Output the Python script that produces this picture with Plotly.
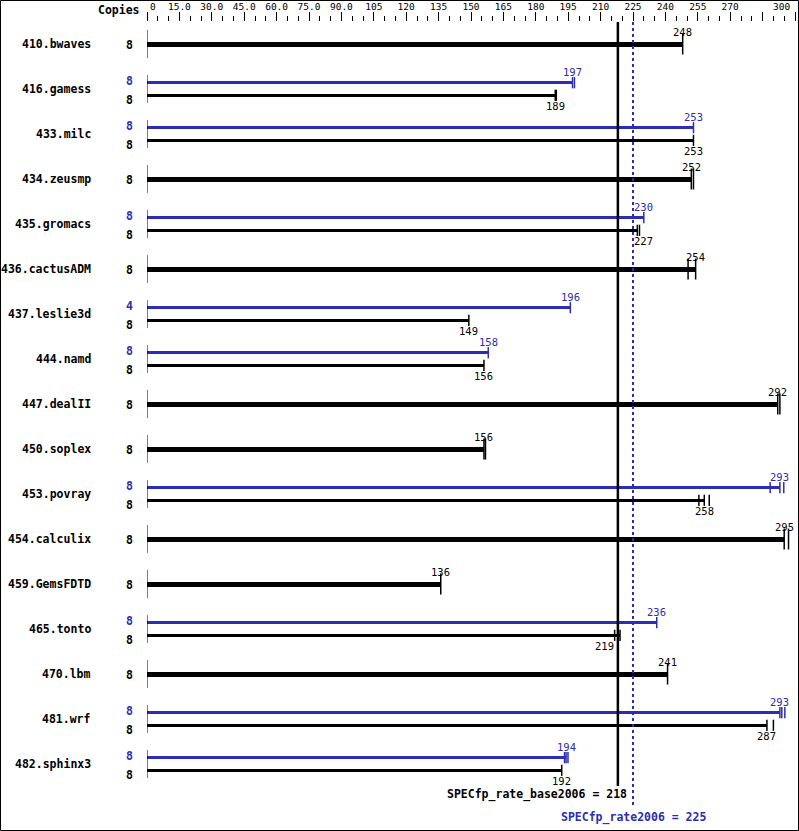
import plotly.graph_objects as go

# ---------------- data ----------------
benchmarks = ["410.bwaves", "416.gamess", "433.milc", "434.zeusmp", "435.gromacs",
              "436.cactusADM", "437.leslie3d", "444.namd", "447.dealII", "450.soplex",
              "453.povray", "454.calculix", "459.GemsFDTD", "465.tonto", "470.lbm",
              "481.wrf", "482.sphinx3"]
base_copies = [8, 8, 8, 8, 8, 8, 8, 8, 8, 8, 8, 8, 8, 8, 8, 8, 8]
base_values = [248, 189, 253, 252, 227, 254, 149, 156, 292, 156, 258, 295, 136, 219, 241, 287, 192]
base_runs = [[248], [189, 189.5], [253], [252, 253], [227, 228], [250.5, 254], [149], [156],
             [292, 293], [156, 156.7], [255.5, 258, 260.3], [295, 297], [136], [216.5, 219],
             [241], [287, 290], [192]]
peak_copies = [None, 8, 8, None, 8, None, 4, 8, None, None, 8, None, None, 8, None, 8, 8]
peak_values = [None, 197, 253, None, 230, None, 196, 158, None, None, 293, None, None, 236, None, 293, 194]
peak_runs = [None, [197, 197.9], [253], None, [230], None, [196], [158], None, None,
             [288.5, 293, 294.8], None, None, [236], None, [293, 293.9, 295.3], [193.3, 194, 194.9]]
tick_vals = [0, 15, 30, 45, 60, 75, 90, 105, 120, 135, 150, 165, 180, 195, 210, 225, 240, 255, 270, 285, 300]
tick_text = ["", "15.0", "30.0", "45.0", "60.0", "75.0", "90.0", "105", "120", "135", "150", "165",
             "180", "195", "210", "225", "240", "255", "270", "", ""]
SPECfp_rate_base2006 = 218
SPECfp_rate2006 = 225

# ---------------- style ----------------
BLUE = "#2c2cb4"
BLACK = "#000000"
W, H = 799, 831
ML, MR, MT, MB = 147, 4, 22, 0
PW = W - ML - MR
PH = H - MT - MB
ROW0, ROWSTEP = 44, 45
PAIR_OFF = 6.3
MONO = "DejaVu Sans Mono"
label_shift = {("465.tonto", "base"): -16, ("435.gromacs", "base"): 6}

fig = go.Figure()
annotations = []
shapes = []

def px_to_paper_x(p):
    return (p - ML) / PW

def px_to_paper_y(p):
    return (H - MB - p) / PH

seg_x, seg_y = [], []
for i, name in enumerate(benchmarks):
    c = ROW0 + ROWSTEP * i
    seg_x += [0, 0, None]
    seg_y += [c - 14, c + 14, None]
    annotations.append(dict(x=0, y=c, xref="x", yref="y", text=name, showarrow=False,
                            xanchor="right", yanchor="middle", xshift=-54,
                            font=dict(family=MONO, size=11.5, color=BLACK, weight="bold")))
    has_peak = peak_values[i] is not None
    series = []
    if has_peak:
        series.append(("peak", peak_values[i], peak_runs[i], peak_copies[i], c - PAIR_OFF, BLUE, 2.5, 8))
        series.append(("base", base_values[i], base_runs[i], base_copies[i], c + PAIR_OFF, BLACK, 2.5, 8))
    else:
        series.append(("base", base_values[i], base_runs[i], base_copies[i], c, BLACK, 5, 15))
    for kind, val, runs, copies, y, col, bw, tlen in series:
        fig.add_trace(go.Bar(x=[val], y=[y], base=0, orientation="h", width=bw,
                             marker=dict(color=col, line=dict(width=0)), showlegend=False,
                             hoverinfo="skip"))
        fig.add_trace(go.Scatter(x=runs, y=[y] * len(runs), mode="markers",
                                 marker=dict(symbol="line-ns", size=tlen,
                                             line=dict(width=1.5, color=col)),
                                 showlegend=False, hoverinfo="skip"))
        if has_peak:
            ly = y - 11 if kind == "peak" else y + 11
        else:
            ly = y - 12
        annotations.append(dict(x=val, y=ly, xref="x", yref="y", text=str(val), showarrow=False,
                                xanchor="center", yanchor="middle",
                                xshift=label_shift.get((name, kind), 0),
                                font=dict(family=MONO, size=10.5, color=col)))
        if has_peak:
            cy = y - 2 if kind == "peak" else y + 5
        else:
            cy = y + 1
        annotations.append(dict(x=0, y=cy, xref="x", yref="y", text=str(copies), showarrow=False,
                                xanchor="right", yanchor="middle", xshift=-12,
                                font=dict(family=MONO, size=11.5, color=col, weight="bold")))

fig.add_trace(go.Scatter(x=seg_x, y=seg_y, mode="lines", line=dict(color=BLACK, width=1),
                         showlegend=False, hoverinfo="skip"))

# summary lines
shapes.append(dict(type="line", xref="x", yref="y", x0=SPECfp_rate_base2006, x1=SPECfp_rate_base2006,
                   y0=MT, y1=786, line=dict(color=BLACK, width=2.5)))
shapes.append(dict(type="line", xref="x", yref="y", x0=SPECfp_rate2006, x1=SPECfp_rate2006,
                   y0=MT, y1=805, line=dict(color=BLUE, width=2, dash="dot")))
annotations.append(dict(x=SPECfp_rate_base2006, y=794, xref="x", yref="y",
                        text=f"SPECfp_rate_base2006 = {SPECfp_rate_base2006}", showarrow=False,
                        xanchor="right", yanchor="middle", xshift=11,
                        font=dict(family=MONO, size=11.5, color=BLACK, weight="bold")))
annotations.append(dict(x=SPECfp_rate2006, y=817, xref="x", yref="y",
                        text=f"SPECfp_rate2006 = {SPECfp_rate2006}", showarrow=False,
                        xanchor="center", yanchor="middle",
                        font=dict(family=MONO, size=11.5, color=BLUE, weight="bold")))

# header texts
annotations.append(dict(x=0, y=px_to_paper_y(10), xref="x", yref="paper", text="Copies",
                        showarrow=False, xanchor="right", yanchor="middle", xshift=-5,
                        font=dict(family=MONO, size=11.5, color=BLACK, weight="bold")))
annotations.append(dict(x=tick_vals[0], y=px_to_paper_y(7), xref="x", yref="paper", text="0",
                        showarrow=False, xanchor="left", yanchor="middle", xshift=1,
                        font=dict(family=MONO, size=9.5, color=BLACK)))
annotations.append(dict(x=tick_vals[-1], y=px_to_paper_y(7), xref="x", yref="paper", text="300",
                        showarrow=False, xanchor="right", yanchor="middle", xshift=-3,
                        font=dict(family=MONO, size=9.5, color=BLACK)))

# frame
shapes.append(dict(type="rect", xref="paper", yref="paper",
                   x0=px_to_paper_x(0.5), x1=px_to_paper_x(798.5),
                   y0=px_to_paper_y(830.5), y1=px_to_paper_y(0.5),
                   line=dict(color=BLACK, width=1), fillcolor="rgba(0,0,0,0)", layer="above"))

fig.update_layout(
    width=W, height=H,
    margin=dict(l=ML, r=MR, t=MT, b=MB, pad=0),
    paper_bgcolor="white", plot_bgcolor="white",
    barmode="overlay", bargap=0,
    annotations=annotations, shapes=shapes,
    xaxis=dict(range=[0, 300], side="top", tickmode="array", tickvals=tick_vals, ticktext=tick_text,
               ticks="outside", ticklen=9, tickwidth=1, tickcolor=BLACK, showgrid=False,
               zeroline=False, showline=False, fixedrange=True, ticklabelstandoff=-2,
               tickfont=dict(family=MONO, size=9.5, color=BLACK),
               minor=dict(dtick=5, tick0=0, ticks="outside", ticklen=5, tickwidth=1,
                          tickcolor=BLACK, showgrid=False)),
    yaxis=dict(range=[H - MB, MT], visible=False, showgrid=False, zeroline=False, fixedrange=True),
)

fig.write_html("out.html", config={"staticPlot": True},
               post_script="document.body.style.margin='0';document.body.style.padding='0';"
                           "document.body.style.overflow='hidden';")
